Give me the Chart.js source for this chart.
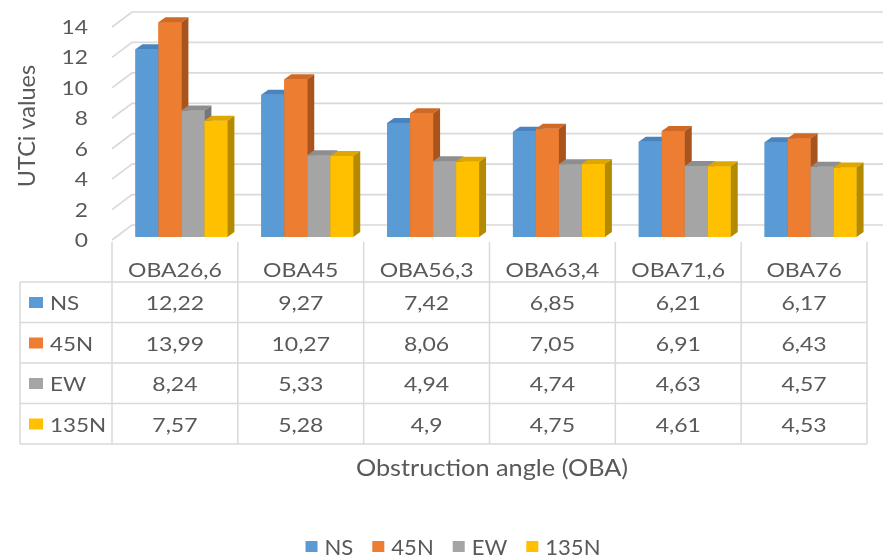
<!DOCTYPE html>
<html>
<head>
<meta charset="utf-8">
<script src="https://cdn.jsdelivr.net/npm/chart.js@4"></script>
<style>
  html, body { margin: 0; padding: 0; background: #ffffff; }
  #wrap { width: 883px; height: 557px; }
</style>
</head>
<body>
<div id="wrap"><canvas id="c" width="883" height="557"></canvas></div>
<script>
// Categories, series and ticks
const categories = ['OBA26,6', 'OBA45', 'OBA56,3', 'OBA63,4', 'OBA71,6', 'OBA76'];
const seriesNames = ['NS', '45N', 'EW', '135N'];
const valuesNS   = [12.22, 9.27, 7.42, 6.85, 6.21, 6.17];
const values45N  = [13.99, 10.27, 8.06, 7.05, 6.91, 6.43];
const valuesEW   = [8.24, 5.33, 4.94, 4.74, 4.63, 4.57];
const values135N = [7.57, 5.28, 4.9, 4.75, 4.61, 4.53];
const yTicks = [0, 2, 4, 6, 8, 10, 12, 14];
const yTitle = 'UTCi values';
const xTitle = 'Obstruction angle (OBA)';

const seriesValues = [valuesNS, values45N, valuesEW, values135N];
const frontColors = ['#5B9BD5', '#ED7D31', '#A5A5A5', '#FFC000'];
const topColors   = ['#4A84BF', '#CF6A26', '#8E8E8E', '#DDA700'];
const sideColors  = ['#3E72A6', '#A9541C', '#777777', '#B38A00'];

const TEXT = '#595959';
const GRID = '#D9D9D9';
const FONT = 'Lato, "Open Sans", sans-serif';
const BAR_DX = 7, BAR_DY = -5;      // bar depth
const WALL_DX = 20, WALL_DY = -15;  // back wall offset
const GROUP_SHIFT = 6.5;            // bars sit right of the table column centre
const SX = 1.15;                    // horizontal text stretch

function txt(ctx, s, x, y, size, align, sx) {
  ctx.save();
  ctx.font = size + 'px ' + FONT;
  ctx.fillStyle = TEXT;
  ctx.textBaseline = 'alphabetic';
  ctx.translate(x, y);
  ctx.scale(sx || SX, 1);
  ctx.textAlign = align || 'center';
  ctx.fillText(s, 0, 0);
  ctx.restore();
}
function textW(ctx, s, size, sx) {
  ctx.save();
  ctx.font = size + 'px ' + FONT;
  const w = ctx.measureText(s).width * (sx || SX);
  ctx.restore();
  return w;
}
function fmt(v) { return String(v).replace('.', ','); }

// front edge of the floor/wall box for a value
function frontY(yScale, v) {
  const base = yScale.getPixelForValue(0);
  return base + 3 - (base - yScale.getPixelForValue(v)) * 0.9907;
}

const box3d = {
  id: 'box3d',
  beforeDatasetsDraw(chart) {
    const { ctx, chartArea, scales: { y } } = chart;
    const plotLeft = chartArea.left - GROUP_SHIFT;
    ctx.save();
    ctx.strokeStyle = GRID;
    ctx.lineWidth = 1.7;
    yTicks.forEach(v => {
      const fy = frontY(y, v);
      ctx.beginPath();
      ctx.moveTo(plotLeft, fy);
      ctx.lineTo(plotLeft + WALL_DX, fy + WALL_DY);
      ctx.lineTo(chart.width, fy + WALL_DY);
      ctx.stroke();
    });
    ctx.restore();
  },
  // shade each bar as a block: front, top and right side, left to right in every group
  afterDatasetsDraw(chart) {
    const { ctx } = chart;
    const metas = seriesNames.map((n, s) => chart.getDatasetMeta(s));
    ctx.save();
    categories.forEach((c, k) => {
      metas.forEach((meta, s) => {
        const p = meta.data[k].getProps(['x', 'y', 'base', 'width'], true);
        const l = p.x - p.width / 2, r = p.x + p.width / 2;
        const t = p.y, b = p.base;
        ctx.fillStyle = frontColors[s];
        ctx.fillRect(l, t, r - l, b - t);
        ctx.fillStyle = topColors[s];
        ctx.beginPath();
        ctx.moveTo(l, t); ctx.lineTo(r, t);
        ctx.lineTo(r + BAR_DX, t + BAR_DY); ctx.lineTo(l + BAR_DX, t + BAR_DY);
        ctx.closePath(); ctx.fill();
        ctx.fillStyle = sideColors[s];
        ctx.beginPath();
        ctx.moveTo(r, t); ctx.lineTo(r + BAR_DX, t + BAR_DY);
        ctx.lineTo(r + BAR_DX, b + BAR_DY); ctx.lineTo(r, b);
        ctx.closePath(); ctx.fill();
      });
    });
    ctx.restore();
  },
  afterDraw(chart) {
    const { ctx, scales: { x, y } } = chart;
    const cw = x.getPixelForValue(1) - x.getPixelForValue(0);
    const colLeft = k => x.getPixelForValue(k) - cw / 2 - GROUP_SHIFT;
    const tableLeft = 20;
    const tableRight = colLeft(categories.length);
    const headTop = 242;
    const rowLines = [282, 322.5, 363, 403.5, 444];

    // y tick labels and title
    yTicks.forEach(v => txt(ctx, String(v), 88, frontY(y, v) + 7, 19, 'right', 1.2));
    ctx.save();
    ctx.translate(35, 126);
    ctx.rotate(-Math.PI / 2);
    txt(ctx, yTitle, 0, 0, 23, 'center', 1.02);
    ctx.restore();

    // data table grid
    ctx.save();
    ctx.strokeStyle = GRID;
    ctx.lineWidth = 1.5;
    ctx.beginPath();
    rowLines.forEach(ry => { ctx.moveTo(tableLeft, ry); ctx.lineTo(tableRight, ry); });
    ctx.moveTo(tableLeft, rowLines[0]); ctx.lineTo(tableLeft, rowLines[4]);
    for (let k = 0; k <= categories.length; k++) {
      ctx.moveTo(colLeft(k), headTop); ctx.lineTo(colLeft(k), rowLines[4]);
    }
    ctx.stroke();
    ctx.restore();

    // header row
    categories.forEach((c, k) => txt(ctx, c, colLeft(k) + cw / 2, 277, 20, 'center'));
    // series rows
    const baselines = [310, 350.5, 391, 431.5];
    seriesNames.forEach((name, s) => {
      const by = baselines[s];
      ctx.fillStyle = frontColors[s];
      ctx.fillRect(29, by - 13, 14, 11);
      txt(ctx, name, 50, by, 19.5, 'left');
      seriesValues[s].forEach((v, k) => txt(ctx, fmt(v), colLeft(k) + cw / 2, by, 20, 'center'));
    });

    // axis title
    txt(ctx, xTitle, 492, 476, 23, 'center', 1.1);

    // legend
    const lSize = 21, boxW = 12, boxH = 11, gap = 7, itemGap = 19;
    const widths = seriesNames.map(n => boxW + gap + textW(ctx, n, lSize, 1.05));
    const total = widths.reduce((a, b) => a + b, 0) + itemGap * (widths.length - 1);
    let lx = 453 - total / 2;
    const ly = 555;
    seriesNames.forEach((n, s) => {
      ctx.fillStyle = frontColors[s];
      ctx.fillRect(lx, ly - 14, boxW, boxH);
      txt(ctx, n, lx + boxW + gap, ly, lSize, 'left', 1.05);
      lx += widths[s] + itemGap;
    });
  }
};

new Chart(document.getElementById('c'), {
  type: 'bar',
  data: {
    labels: categories,
    datasets: seriesNames.map((n, s) => ({
      label: n,
      data: seriesValues[s],
      backgroundColor: frontColors[s],
      borderWidth: 0,
      categoryPercentage: 0.731,
      barPercentage: 1.0
    }))
  },
  options: {
    responsive: false,
    animation: false,
    layout: { padding: { left: 118.5, right: 9.5, top: 22, bottom: 320 } },
    plugins: { legend: { display: false }, tooltip: { enabled: false } },
    scales: {
      x: { display: false, offset: true },
      y: { display: false, min: 0, max: 14 }
    }
  },
  plugins: [box3d]
});
</script>
</body>
</html>
